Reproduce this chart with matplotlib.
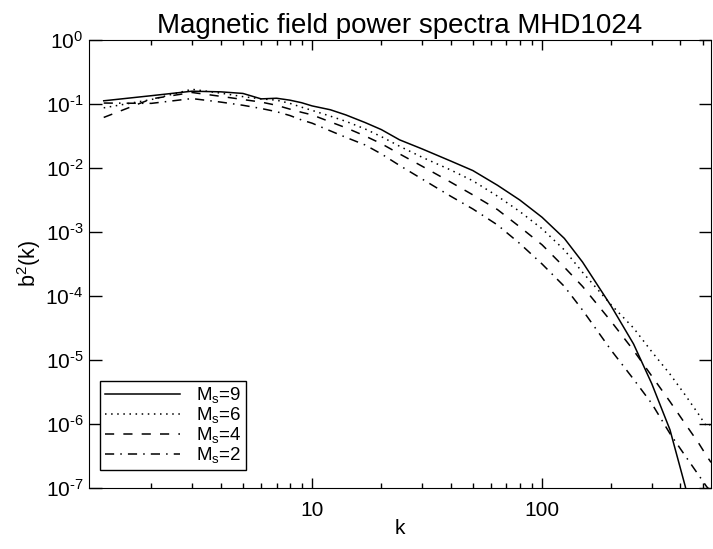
import matplotlib
matplotlib.use("Agg")
import matplotlib.pyplot as plt
import numpy as np
from matplotlib.ticker import LogLocator, FixedLocator, NullFormatter, FixedFormatter

plt.rcParams['font.family'] = ['Liberation Sans', 'DejaVu Sans']
plt.rcParams['mathtext.fontset'] = 'custom'
plt.rcParams['mathtext.rm'] = 'Liberation Sans'
plt.rcParams['mathtext.it'] = 'Liberation Sans:italic'
plt.rcParams['mathtext.bf'] = 'Liberation Sans:bold'

k = [1.24, 2, 3, 4, 5, 6, 7, 8, 9, 10, 12, 14, 17, 20, 24, 30, 40, 50, 64, 80,
     100, 125, 150, 200, 250, 300, 360, 420, 480, 520, 543]

# log10 of b^2(k)
log_ms9 = [-0.95, -0.87, -0.80, -0.81, -0.835, -0.92, -0.91, -0.94, -0.98, -1.03,
           -1.09, -1.17, -1.29, -1.40, -1.56, -1.70, -1.89, -2.04, -2.27, -2.50,
           -2.77, -3.10, -3.47, -4.16, -4.75, -5.37, -6.09, -6.98, -8.0, -8.6, -9.0]
log_ms6 = [-1.06, -0.93, -0.77, -0.83, -0.885, -0.92, -0.94, -0.99, -1.05, -1.10,
           -1.19, -1.27, -1.39, -1.51, -1.66, -1.83, -2.03, -2.20, -2.44, -2.68,
           -2.95, -3.28, -3.63, -4.14, -4.50, -4.87, -5.22, -5.55, -5.85, -6.04, -6.00]
log_ms4 = [-1.21, -0.92, -0.82, -0.88, -0.93, -0.97, -1.02, -1.08, -1.13, -1.17,
           -1.28, -1.37, -1.50, -1.62, -1.78, -1.97, -2.22, -2.42, -2.65, -2.92,
           -3.20, -3.55, -3.85, -4.40, -4.85, -5.25, -5.65, -6.00, -6.30, -6.50, -6.60]
log_ms2 = [-0.985, -0.99, -0.915, -0.97, -1.02, -1.07, -1.12, -1.18, -1.25, -1.30,
           -1.42, -1.52, -1.64, -1.78, -1.96, -2.17, -2.44, -2.64, -2.89, -3.18,
           -3.50, -3.85, -4.22, -4.85, -5.30, -5.68, -6.15, -6.50, -6.80, -6.98, -7.05]

labels = ['M$_\\mathregular{s}$=9', 'M$_\\mathregular{s}$=6',
          'M$_\\mathregular{s}$=4', 'M$_\\mathregular{s}$=2']
styles = ['-', (0, (1, 3)), (0, (6, 6)), (0, (6, 4, 1, 4))]

yexp = list(range(-7, 1))
ytick_labels = ['$10^{%s}$' % (str(e).replace('-', '\u2010')) for e in yexp]

fig = plt.figure(figsize=(7.13, 5.49), dpi=100)
ax = fig.add_axes([89/713, 1-488/549, (711-89)/713, (488-40)/549])

for lv, lab, ls in zip([log_ms9, log_ms6, log_ms4, log_ms2], labels, styles):
    ax.plot(k, 10.0**np.array(lv), color='black', lw=1.1, linestyle=ls, label=lab)

ax.set_xscale('log')
ax.set_yscale('log')
ax.set_xlim(1.07, 543)
ax.set_ylim(1e-7, 1e0)

ax.yaxis.set_major_locator(FixedLocator([10.0**e for e in yexp]))
ax.yaxis.set_major_formatter(FixedFormatter(ytick_labels))
ax.yaxis.set_minor_locator(FixedLocator([]))
ax.xaxis.set_major_locator(FixedLocator([10, 100]))
ax.xaxis.set_major_formatter(FixedFormatter(['10', '100']))
ax.xaxis.set_minor_locator(LogLocator(base=10, subs=np.arange(2, 10)))
ax.xaxis.set_minor_formatter(NullFormatter())

ax.tick_params(axis='both', which='both', direction='in', top=True, right=True,
               labelsize=15, width=1)
ax.tick_params(axis='y', which='major', length=9, pad=4)
ax.tick_params(axis='x', which='major', length=7, pad=9)
ax.tick_params(axis='x', which='minor', length=3.5)

ax.set_xlabel('k', fontsize=15, labelpad=0)
ax.set_ylabel('b$^2$(k)', fontsize=15.5, labelpad=2)
ax.set_title('Magnetic field power spectra MHD1024', fontsize=20, pad=5)

leg = ax.legend(loc='lower left', bbox_to_anchor=(0.0177, 0.040), borderaxespad=0,
                fontsize=13.5, frameon=True, fancybox=False, edgecolor='black',
                framealpha=1, handlelength=4.0, labelspacing=0.0, borderpad=0.25,
                handletextpad=0.85)
leg.get_frame().set_linewidth(1.0)

fig.savefig('out.png', dpi=100)
